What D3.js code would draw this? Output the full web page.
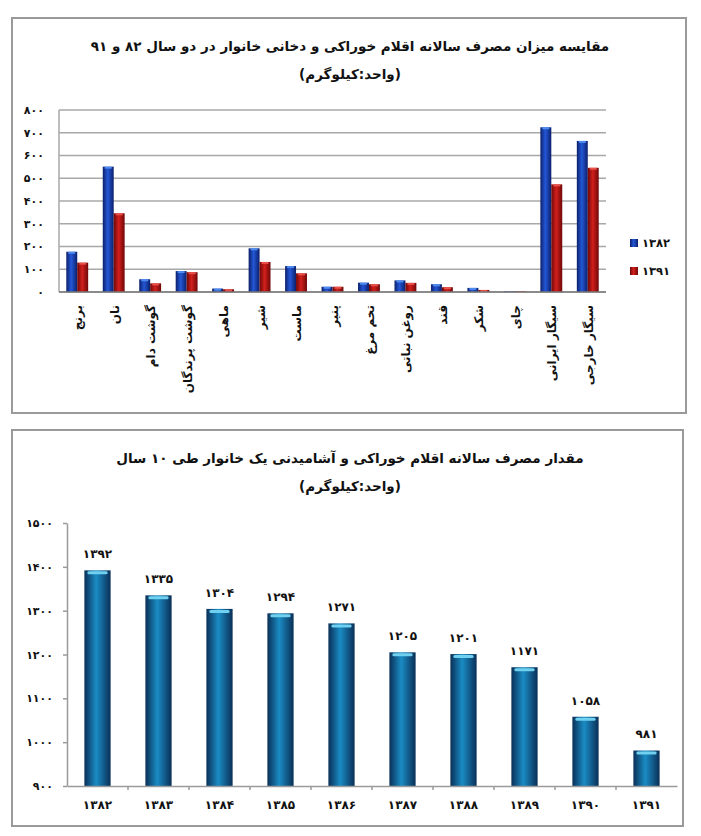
<!DOCTYPE html>
<meta charset="utf-8">
<style>
  body { margin: 0; background: #fff; }
  svg { font-family: "DejaVu Sans", sans-serif; font-weight: bold; }
  .panel { fill: #fff; stroke: #9a9a9a; stroke-width: 2px; }
  .grid line { stroke: #a8a8a8; stroke-width: 1.5px; }
  .axis path, .axis line { stroke: #9a9a9a; stroke-width: 1.5px; fill: none; }
  .axis text { fill: #111; }
  .title { fill: #111; text-anchor: middle; }
</style>
<body>
<script src="https://cdn.jsdelivr.net/npm/d3@7"></script>
<script>

  // chart 1: two years compared, per food item
  var items = ["برنج", "نان", "گوشت دام", "گوشت پرندگان", "ماهی", "شیر", "ماست", "پنیر",
               "تخم مرغ", "روغن نباتی", "قند", "شکر", "چای", "سیگار ایرانی", "سیگار خارجی"];
  var seriesNames = ["1382", "1391"];
  var values1382 = [177, 551, 56, 92, 15, 192, 114, 23, 41, 51, 34, 18, 3, 724, 664];
  var values1391 = [129, 346, 38, 87, 12, 132, 82, 23, 34, 40, 21, 9, 3, 473, 546];
  var ticks1 = [0, 100, 200, 300, 400, 500, 600, 700, 800];

  // chart 2: ten years
  var years = ["1382", "1383", "1384", "1385", "1386", "1387", "1388", "1389", "1390", "1391"];
  var totals = [1392, 1335, 1304, 1294, 1271, 1205, 1201, 1171, 1058, 981];
  var ticks2 = [900, 1000, 1100, 1200, 1300, 1400, 1500];

  var title1a = "مقایسه میزان مصرف سالانه اقلام خوراکی و دخانی خانوار در دو سال ۸۲ و ۹۱";
  var title2a = "مقدار مصرف سالانه اقلام خوراکی و آشامیدنی یک خانوار طی ۱۰ سال";
  var unit = "(واحد:کیلوگرم)";

  function fa(v) {
    return String(v).replace(/[0-9]/g, function(c) { return "۰۱۲۳۴۵۶۷۸۹"[+c]; });
  }

  var svg = d3.select("body").append("svg")
    .attr("width", 701)
    .attr("height", 836);

  var defs = svg.append("defs");

  // cylinder-like shading for bars
  function gradient(id, edge, mid) {
    var g = defs.append("linearGradient").attr("id", id)
      .attr("x1", "0").attr("x2", "1").attr("y1", "0").attr("y2", "0");
    g.append("stop").attr("offset", "0%").attr("stop-color", edge);
    g.append("stop").attr("offset", "45%").attr("stop-color", mid);
    g.append("stop").attr("offset", "100%").attr("stop-color", edge);
  }
  gradient("gBlue", "#0b1f6b", "#2457d6");
  gradient("gRed", "#6e0808", "#d21f1c");
  gradient("gTeal", "#0a2f57", "#1a8cc4");

  var colors = {"1382": "url(#gBlue)", "1391": "url(#gRed)"};
  var caps = {"1382": "#4f8cf0", "1391": "#e8504a"};

  // ---------- top panel ----------
  svg.append("rect").attr("class", "panel")
    .attr("x", 12).attr("y", 18).attr("width", 674).attr("height", 395);

  svg.append("text").attr("class", "title")
    .attr("x", 350).attr("y", 51).attr("font-size", 13.5).text(title1a);
  svg.append("text").attr("class", "title")
    .attr("x", 350).attr("y", 79).attr("font-size", 13.5).text(unit);

  var x0 = d3.scaleBand().domain(items).range([59, 606]).paddingInner(0.4).paddingOuter(0.2);
  var x1 = d3.scaleBand().domain(seriesNames).range([0, x0.bandwidth()]);
  var y1 = d3.scaleLinear().domain([0, 800]).range([292, 110]);

  svg.append("g").attr("class", "grid")
    .selectAll("line").data(ticks1).enter().append("line")
    .attr("x1", 59).attr("x2", 606)
    .attr("y1", function(d) { return y1(d); })
    .attr("y2", function(d) { return y1(d); });

  svg.append("line")
    .attr("x1", 59).attr("x2", 59).attr("y1", y1(800)).attr("y2", y1(0))
    .attr("stroke", "#a8a8a8").attr("stroke-width", 1.5);

  svg.append("g").selectAll("text").data(ticks1).enter().append("text")
    .attr("x", 44).attr("y", function(d) { return y1(d); })
    .attr("dy", "0.35em").attr("text-anchor", "end")
    .attr("font-size", 11).attr("fill", "#111")
    .text(function(d) { return fa(d); });

  var rows = items.map(function(name, i) {
    return {name: name, vals: [{s: "1382", v: values1382[i]}, {s: "1391", v: values1391[i]}]};
  });

  var groups = svg.append("g").selectAll("g").data(rows).enter().append("g")
    .attr("transform", function(d) { return "translate(" + x0(d.name) + ",0)"; });

  groups.selectAll("rect.bar").data(function(d) { return d.vals; }).enter().append("rect")
    .attr("class", "bar")
    .attr("x", function(d) { return x1(d.s); })
    .attr("width", x1.bandwidth())
    .attr("y", function(d) { return y1(d.v); })
    .attr("height", function(d) { return y1(0) - y1(d.v); })
    .attr("fill", function(d) { return colors[d.s]; });

  groups.selectAll("rect.cap").data(function(d) { return d.vals; }).enter().append("rect")
    .attr("class", "cap")
    .attr("x", function(d) { return x1(d.s) + 2; })
    .attr("width", x1.bandwidth() - 4)
    .attr("y", function(d) { return y1(d.v); })
    .attr("height", function(d) { return Math.min(2, y1(0) - y1(d.v)); })
    .attr("fill", function(d) { return caps[d.s]; });

  svg.append("line")
    .attr("x1", 59).attr("x2", 606).attr("y1", y1(0)).attr("y2", y1(0))
    .attr("stroke", "#7a7a7a").attr("stroke-width", 1.5);

  // rotated category labels
  svg.append("g").selectAll("text").data(items).enter().append("text")
    .attr("transform", function(d) {
      return "translate(" + (x0(d) + x0.bandwidth() / 2 + 5) + ",305) rotate(-90)";
    })
    .attr("text-anchor", "end")
    .attr("font-size", 12).attr("fill", "#111")
    .text(function(d) { return d; });

  // legend
  var legend = svg.append("g").selectAll("g").data(seriesNames).enter().append("g")
    .attr("transform", function(d, i) { return "translate(630," + (239 + i * 28) + ")"; });
  legend.append("rect").attr("width", 8).attr("height", 8)
    .attr("fill", function(d) { return colors[d]; });
  legend.append("text").attr("x", 12).attr("y", 4).attr("dy", "0.35em")
    .attr("font-size", 11.5).attr("fill", "#111")
    .text(function(d) { return fa(d); });

  // ---------- bottom panel ----------
  svg.append("rect").attr("class", "panel")
    .attr("x", 12).attr("y", 430).attr("width", 671).attr("height", 396);

  svg.append("text").attr("class", "title")
    .attr("x", 350).attr("y", 463).attr("font-size", 13.5).text(title2a);
  svg.append("text").attr("class", "title")
    .attr("x", 350).attr("y", 491).attr("font-size", 13.5).text(unit);

  var xb = d3.scaleBand().domain(years).range([67, 677]).paddingInner(0.57).paddingOuter(0.285);
  var xs = d3.scaleBand().domain(years).range([67, 677]);
  var y2 = d3.scaleLinear().domain([900, 1500]).range([786, 523]);

  var yAxis = svg.append("g").attr("class", "axis")
    .attr("transform", "translate(67,0)")
    .call(d3.axisLeft(y2).tickValues(ticks2).tickSize(4).tickSizeOuter(0).tickPadding(10)
      .tickFormat(fa));
  yAxis.selectAll("text").attr("font-size", 11).attr("font-family", "DejaVu Sans").attr("font-weight", "bold");

  svg.append("g").selectAll("rect").data(totals).enter().append("rect")
    .attr("x", function(d, i) { return xb(years[i]); })
    .attr("width", xb.bandwidth())
    .attr("y", function(d) { return y2(d); })
    .attr("height", function(d) { return y2(900) - y2(d); })
    .attr("fill", "url(#gTeal)");

  svg.append("g").selectAll("rect").data(totals).enter().append("rect")
    .attr("x", function(d, i) { return xb(years[i]) + 3; })
    .attr("width", xb.bandwidth() - 6)
    .attr("y", function(d) { return y2(d) + 1; })
    .attr("height", 3).attr("rx", 1.5)
    .attr("fill", "#6fd0f0");

  svg.append("g").selectAll("text").data(totals).enter().append("text")
    .attr("x", function(d, i) { return xb(years[i]) + xb.bandwidth() / 2; })
    .attr("y", function(d) { return y2(d) - 12; })
    .attr("text-anchor", "middle")
    .attr("font-size", 12).attr("fill", "#111")
    .text(function(d) { return fa(d); });

  var xAxis = svg.append("g").attr("class", "axis")
    .attr("transform", "translate(0,786)")
    .call(d3.axisBottom(xs).tickSize(0).tickPadding(14).tickFormat(fa));
  xAxis.selectAll("text").attr("font-size", 12).attr("font-family", "DejaVu Sans").attr("font-weight", "bold");

  // ticks between years
  svg.append("g").selectAll("line").data(years.slice(1)).enter().append("line")
    .attr("x1", function(d) { return xs(d); })
    .attr("x2", function(d) { return xs(d); })
    .attr("y1", 786).attr("y2", 790)
    .attr("stroke", "#9a9a9a").attr("stroke-width", 1.5);

</script>
</body>
